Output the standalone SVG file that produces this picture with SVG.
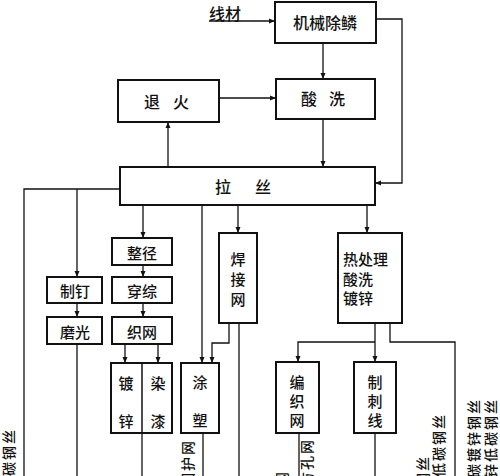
<svg xmlns="http://www.w3.org/2000/svg" width="500" height="476" viewBox="0 0 500 476">
<defs>
<marker id="ar" markerUnits="userSpaceOnUse" markerWidth="7" markerHeight="6" refX="6" refY="3" orient="auto">
<path d="M0,0.5 L6,3 L0,5.5 z" fill="#111"/>
</marker>
<style>
.b{fill:#fff;stroke:#111;stroke-width:2}
.t{font-family:"Noto Sans CJK SC","Noto Sans CJK TC",sans-serif;font-size:15px;font-weight:500;fill:#111;text-anchor:middle;dominant-baseline:central}
.w{font-size:16px}
.l{text-anchor:start}
.r{font-family:"Noto Sans CJK SC","Noto Sans CJK TC",sans-serif;font-size:14px;font-weight:500;fill:#111;text-anchor:end;dominant-baseline:central;letter-spacing:2px}
.c path{fill:none;stroke:#111;stroke-width:1.3}
.a{marker-end:url(#ar)}
</style>
</defs>
<rect width="500" height="476" fill="#fff"/>
<g class="c" id="connectors">
<path class="a" d="M209,21 H275"/>
<path class="a" d="M323,43 V79"/>
<path class="a" d="M219,98 H276"/>
<path class="a" d="M323,119 V167"/>
<path class="a" d="M168,167 V122"/>
<path class="a" d="M376,19 H402 V183 H375"/>
<path d="M120,189 H24 V476"/>
<path class="a" d="M77,189 V277"/>
<path class="a" d="M77,303 V317"/>
<path d="M77,344 V476"/>
<path class="a" d="M143,205 V238"/>
<path class="a" d="M143,265 V277"/>
<path class="a" d="M143,303 V317"/>
<path class="a" d="M125,344 V363"/>
<path class="a" d="M158,344 V363"/>
<path d="M142,433 V476"/>
<path class="a" d="M202,205 V363"/>
<path class="a" d="M238,205 V233"/>
<path class="a" d="M229,323 V343 H212 V363"/>
<path d="M239,323 V476"/>
<path d="M203,433 V476"/>
<path class="a" d="M367,205 V233"/>
<path class="a" d="M375,323 V362"/>
<path class="a" d="M375,342 H298 V362"/>
<path d="M390,323 V342 H455 V476"/>
<path d="M299,433 V476"/>
<path d="M375,433 V476"/>
</g>
<g id="n-wire"><text class="t w" x="225" y="13">线材</text></g>
<g id="n-descale"><rect class="b" x="275" y="2" width="101" height="41"/><text class="t w" x="325" y="22">机械除鳞</text></g>
<g id="n-anneal"><rect class="b" x="118" y="80" width="101" height="42"/><text class="t w" x="152" y="101">退</text><text class="t w" x="181" y="101">火</text></g>
<g id="n-pickle"><rect class="b" x="276" y="79" width="99" height="40"/><text class="t w" x="309" y="98">酸</text><text class="t w" x="337" y="98">洗</text></g>
<g id="n-draw"><rect class="b" x="120" y="167" width="255" height="38"/><text class="t w" x="223" y="186">拉</text><text class="t w" x="263" y="186">丝</text></g>
<g id="n-nail"><rect class="b" x="47" y="277" width="55" height="26"/><text class="t" x="75" y="290">制钉</text></g>
<g id="n-polish"><rect class="b" x="47" y="317" width="55" height="27"/><text class="t" x="75" y="331">磨光</text></g>
<g id="n-size"><rect class="b" x="112" y="238" width="60" height="27"/><text class="t" x="142" y="252">整径</text></g>
<g id="n-thread"><rect class="b" x="112" y="277" width="60" height="26"/><text class="t" x="142" y="290">穿综</text></g>
<g id="n-weave"><rect class="b" x="112" y="317" width="60" height="27"/><text class="t" x="142" y="331">织网</text></g>
<g id="n-galv-paint"><rect class="b" x="111" y="363" width="61" height="70"/><path d="M142,363 V433" stroke="#111" stroke-width="1.5"/><text class="t" x="126" y="382">镀</text><text class="t" x="126" y="420">锌</text><text class="t" x="158" y="382">染</text><text class="t" x="158" y="420">漆</text></g>
<g id="n-coat"><rect class="b" x="181" y="363" width="38" height="70"/><text class="t" x="200" y="381">涂</text><text class="t" x="200" y="419">塑</text></g>
<g id="n-weld"><rect class="b" x="219" y="233" width="38" height="90"/><text class="t" x="238" y="258">焊</text><text class="t" x="238" y="278">接</text><text class="t" x="238" y="298">网</text></g>
<g id="n-heat"><rect class="b" x="338" y="233" width="64" height="90"/><text class="t l" x="343" y="258">热处理</text><text class="t l" x="343" y="278">酸洗</text><text class="t l" x="343" y="297">镀锌</text></g>
<g id="n-knit"><rect class="b" x="276" y="362" width="43" height="71"/><text class="t" x="297" y="381">编</text><text class="t" x="297" y="400">织</text><text class="t" x="297" y="419">网</text></g>
<g id="n-barb"><rect class="b" x="354" y="362" width="42" height="71"/><text class="t" x="375" y="381">制</text><text class="t" x="375" y="400">刺</text><text class="t" x="375" y="419">线</text></g>
<g id="labels">
<text class="r" transform="translate(8,428) rotate(-90)">碳钢丝</text>
<text class="r" transform="translate(187,439) rotate(-90)">围护网</text>
<text class="r" transform="translate(306,438) rotate(-90)">方孔网</text>
<text class="r" transform="translate(281,470) rotate(-90)">网</text>
<text class="r" transform="translate(422,455) rotate(-90)">钢丝</text>
<text class="r" transform="translate(438,413) rotate(-90)">低碳钢丝</text>
<text class="r" transform="translate(473,398) rotate(-90)">碳镀锌钢丝</text>
<text class="r" transform="translate(490,398) rotate(-90)">锌低碳钢丝</text>
</g>
</svg>
